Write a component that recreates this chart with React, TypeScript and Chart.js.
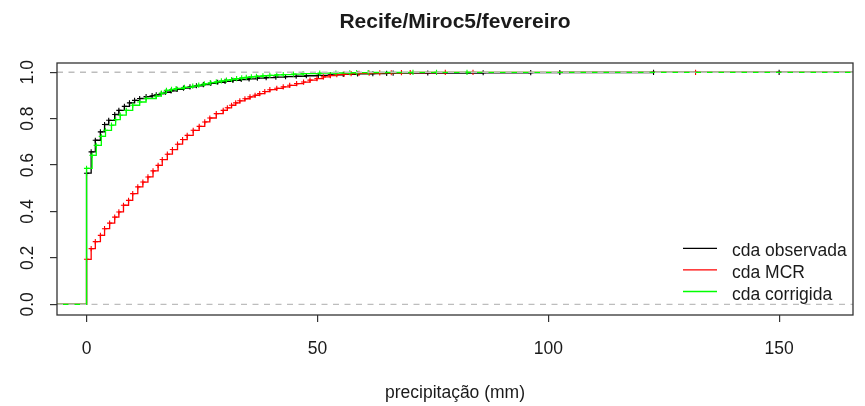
import React, { useEffect, useRef } from 'react';
import { Chart, registerables } from 'chart.js';

Chart.register(...registerables);

const TITLE = 'Recife/Miroc5/fevereiro';
const X_LABEL = 'precipitação (mm)';
const X_TICKS = [0, 50, 100, 150];
const Y_TICKS = [0, 0.2, 0.4, 0.6, 0.8, 1.0];
const REF_LINES = [0, 1];
const X_MIN = -6.4;
const X_MAX = 166;
const Y_MIN = -0.046;
const Y_MAX = 1.04;
const LEGEND_LABELS = ['cda observada', 'cda MCR', 'cda corrigida'];
const COLORS = ['#000000', '#ff0000', '#00ff00'];

// observed ECDF
const obsX = [0, 1.0, 1.9, 3.0, 3.9, 4.8, 6.1, 7.0, 8.2, 9.3, 10.4, 11.5, 12.9, 14.2, 15.1, 16.2, 17.1, 18.3, 19.6, 21.0, 22.4, 23.8, 25.3, 26.9, 28.4, 30.0, 31.7, 33.5, 35.2, 37.0, 38.9, 41.0, 43.1, 45.4, 47.6, 50.2, 52.8, 55.6, 58.7, 62.0, 65.0, 66.4, 73.9, 85.9, 96.2, 102.5, 122.8, 150.0];
const obsY = [0.565, 0.657, 0.707, 0.743, 0.775, 0.793, 0.818, 0.836, 0.853, 0.868, 0.879, 0.887, 0.895, 0.899, 0.903, 0.908, 0.914, 0.92, 0.926, 0.932, 0.937, 0.942, 0.947, 0.952, 0.957, 0.961, 0.965, 0.969, 0.972, 0.975, 0.977, 0.979, 0.981, 0.983, 0.985, 0.987, 0.989, 0.991, 0.993, 0.994, 0.995, 0.996, 0.997, 0.998, 0.9985, 0.999, 0.9995, 1.0];

// model (MCR) ECDF
const mcrX = [0, 1.0, 1.9, 3.0, 3.9, 5.0, 6.1, 7.0, 8.0, 9.1, 10.0, 11.1, 12.2, 13.3, 14.4, 15.5, 16.4, 17.5, 18.6, 19.7, 20.8, 21.8, 23.1, 24.4, 25.6, 26.7, 28.1, 29.6, 30.5, 31.4, 32.3, 33.2, 34.3, 35.4, 36.5, 37.5, 38.6, 39.7, 41.2, 42.6, 44.0, 45.5, 47.0, 48.4, 49.9, 51.3, 52.8, 54.2, 55.8, 57.3, 59.0, 61.2, 63.5, 66.0, 68.2, 70.1, 77.7, 83.7, 131.9];
const mcrY = [0.194, 0.24, 0.27, 0.297, 0.326, 0.35, 0.376, 0.398, 0.427, 0.448, 0.477, 0.506, 0.527, 0.549, 0.575, 0.599, 0.624, 0.647, 0.667, 0.69, 0.71, 0.728, 0.75, 0.767, 0.786, 0.803, 0.822, 0.836, 0.847, 0.858, 0.868, 0.877, 0.886, 0.894, 0.901, 0.908, 0.917, 0.925, 0.931, 0.937, 0.944, 0.951, 0.958, 0.966, 0.973, 0.98, 0.986, 0.99, 0.992, 0.994, 0.9955, 0.9965, 0.9975, 0.998, 0.9985, 0.999, 0.9993, 0.9996, 1.0];

// corrected ECDF
const corX = [0, 1.2, 2.1, 3.2, 4.1, 5.4, 6.3, 7.3, 8.6, 10.0, 11.5, 12.9, 15.1, 16.2, 17.3, 18.4, 19.4, 21.2, 23.0, 24.3, 25.5, 26.8, 28.1, 29.2, 30.3, 31.4, 32.5, 33.6, 34.6, 35.7, 36.8, 38.2, 39.7, 41.2, 42.6, 44.8, 46.9, 50.5, 54.0, 57.0, 58.5, 61.0, 70.7, 75.8, 82.4];
const corY = [0.586, 0.642, 0.685, 0.724, 0.75, 0.772, 0.796, 0.815, 0.836, 0.858, 0.872, 0.887, 0.897, 0.91, 0.922, 0.926, 0.93, 0.935, 0.94, 0.945, 0.95, 0.955, 0.959, 0.963, 0.966, 0.969, 0.973, 0.976, 0.978, 0.98, 0.983, 0.985, 0.987, 0.989, 0.99, 0.992, 0.994, 0.996, 0.997, 0.998, 0.9985, 0.999, 0.9993, 0.9996, 1.0];

const FONT = '"Liberation Sans", Arial, Helvetica, sans-serif';
const TEXT_COLOR = '#1a1a1a';

function stepData(xs: number[], ys: number[]) {
  return [
    { x: X_MIN, y: 0 },
    ...xs.map((x, i) => ({ x, y: ys[i] })),
    { x: X_MAX, y: ys[ys.length - 1] },
  ];
}

function makeDataset(label: string, xs: number[], ys: number[], color: string, order: number) {
  const n = xs.length;
  return {
    label,
    data: stepData(xs, ys),
    showLine: true,
    stepped: 'before' as const,
    borderColor: color,
    backgroundColor: color,
    borderWidth: 1.3,
    pointStyle: 'cross' as const,
    pointRadius: (c: any) => (c.dataIndex === 0 || c.dataIndex === n + 1 ? 0 : 2.6),
    pointBorderColor: color,
    pointBorderWidth: 1.1,
    pointHoverRadius: 0,
    order,
  };
}

const rPlot = {
  id: 'rPlot',
  afterDatasetsDraw(chart: any) {
    const { ctx, chartArea: a, scales } = chart;
    const y = scales.y;
    ctx.save();
    // dashed reference lines
    ctx.beginPath();
    ctx.rect(a.left, a.top, a.right - a.left, a.bottom - a.top);
    ctx.clip();
    ctx.strokeStyle = '#bdbdbd';
    ctx.lineWidth = 1.4;
    ctx.setLineDash([6, 5.5]);
    for (const v of REF_LINES) {
      const py = y.getPixelForValue(v);
      ctx.beginPath();
      ctx.moveTo(a.left, py);
      ctx.lineTo(a.right, py);
      ctx.stroke();
    }
    ctx.restore();

    ctx.save();
    // box
    ctx.strokeStyle = '#333333';
    ctx.lineWidth = 1.3;
    ctx.strokeRect(a.left, a.top, a.right - a.left, a.bottom - a.top);

    // y tick labels (rotated, R style)
    ctx.fillStyle = TEXT_COLOR;
    ctx.font = `17.5px ${FONT}`;
    ctx.textAlign = 'center';
    ctx.textBaseline = 'alphabetic';
    for (const v of Y_TICKS) {
      const py = y.getPixelForValue(v);
      ctx.save();
      ctx.translate(a.left - 24.5, py);
      ctx.rotate(-Math.PI / 2);
      ctx.fillText(v.toFixed(1), 0, 0);
      ctx.restore();
    }

    // legend (bottom right, no box)
    const lineX1 = a.right - 170;
    const lineX2 = a.right - 136;
    const textX = a.right - 121;
    ctx.textAlign = 'left';
    LEGEND_LABELS.forEach((lab, i) => {
      const ly = a.bottom - 23.5 - (LEGEND_LABELS.length - 1 - i) * 21.6;
      ctx.strokeStyle = COLORS[i];
      ctx.lineWidth = 1.3;
      ctx.beginPath();
      ctx.moveTo(lineX1, ly);
      ctx.lineTo(lineX2, ly);
      ctx.stroke();
      ctx.fillStyle = TEXT_COLOR;
      ctx.fillText(lab, textX, ly + 8);
    });

    // title
    ctx.font = `bold 21px ${FONT}`;
    ctx.textAlign = 'center';
    ctx.fillText(TITLE, (a.left + a.right) / 2, 28);
    ctx.restore();
  },
};

export default function App() {
  const ref = useRef<HTMLCanvasElement | null>(null);

  useEffect(() => {
    if (!ref.current) return;
    const chart = new Chart(ref.current, {
      type: 'scatter',
      data: {
        datasets: [
          makeDataset(LEGEND_LABELS[0], obsX, obsY, COLORS[0], 3),
          makeDataset(LEGEND_LABELS[1], mcrX, mcrY, COLORS[1], 2),
          makeDataset(LEGEND_LABELS[2], corX, corY, COLORS[2], 1),
        ] as any,
      },
      options: {
        animation: false,
        responsive: false,
        devicePixelRatio: 1,
        events: [],
        layout: { padding: { top: 63, right: 12, left: 0, bottom: 0 } },
        plugins: {
          legend: { display: false },
          title: { display: false },
          tooltip: { enabled: false },
        },
        scales: {
          x: {
            type: 'linear',
            min: X_MIN,
            max: X_MAX,
            afterBuildTicks: (s: any) => {
              s.ticks = X_TICKS.map((v) => ({ value: v }));
            },
            afterFit: (s: any) => {
              s.height = 91;
            },
            grid: {
              drawOnChartArea: false,
              drawTicks: true,
              tickLength: 7,
              tickColor: '#333333',
              lineWidth: 1.2,
            },
            border: { display: false },
            ticks: {
              padding: 16.5,
              color: TEXT_COLOR,
              font: { size: 17.5, family: FONT },
              maxRotation: 0,
              minRotation: 0,
              callback: (v: any) => String(v),
            },
            title: {
              display: true,
              text: X_LABEL,
              color: TEXT_COLOR,
              font: { size: 17.5, family: FONT },
              padding: { top: 0, bottom: 2.5 },
            },
          },
          y: {
            type: 'linear',
            min: Y_MIN,
            max: Y_MAX,
            afterBuildTicks: (s: any) => {
              s.ticks = Y_TICKS.map((v) => ({ value: v }));
            },
            afterFit: (s: any) => {
              s.width = 57;
            },
            grid: {
              drawOnChartArea: false,
              drawTicks: true,
              tickLength: 7,
              tickColor: '#333333',
              lineWidth: 1.2,
            },
            border: { display: false },
            ticks: { display: false },
          },
        },
      },
      plugins: [rPlot],
    });
    return () => chart.destroy();
  }, []);

  return (
    <canvas
      ref={ref}
      width={865}
      height={406}
      style={{ position: 'fixed', left: 0, top: 0, width: 865, height: 406 }}
    />
  );
}
